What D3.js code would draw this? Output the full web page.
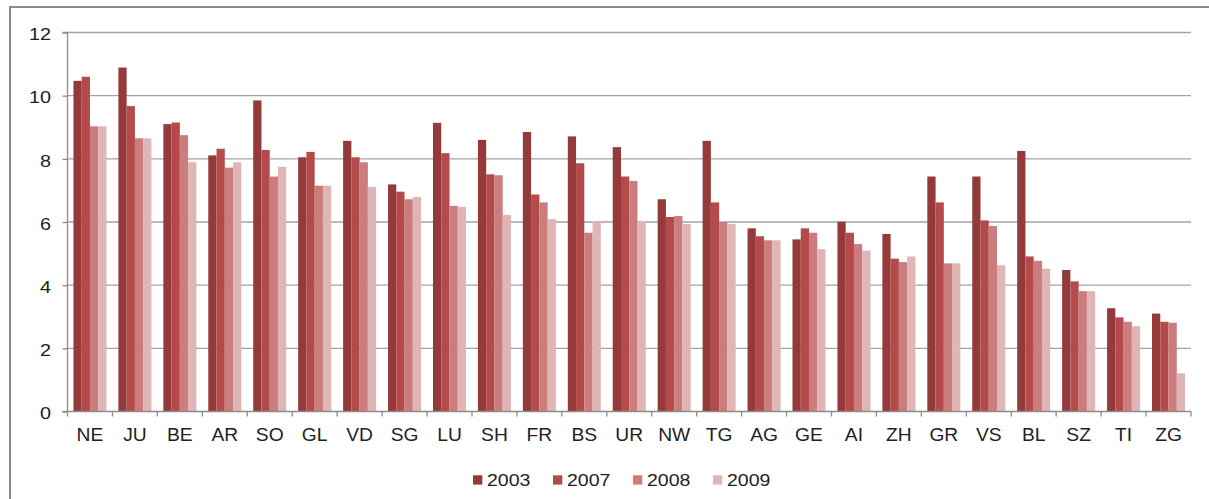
<!DOCTYPE html>
<html>
<head>
<meta charset="utf-8">
<script src="https://cdn.jsdelivr.net/npm/d3@7"></script>
<style>
  html, body { margin: 0; padding: 0; background: #fff; }
  svg { display: block; }
  text { font-family: "Liberation Sans", Arial, sans-serif; fill: #222; }
</style>
</head>
<body>
<svg id="chart" width="1209" height="499"></svg>
<script>
const categories = ["NE","JU","BE","AR","SO","GL","VD","SG","LU","SH","FR","BS","UR","NW","TG","AG","GE","AI","ZH","GR","VS","BL","SZ","TI","ZG"];
const seriesNames = ["2003","2007","2008","2009"];
const v2003 = [10.47,10.89,9.10,8.11,9.85,8.05,8.57,7.19,9.14,8.60,8.85,8.71,8.37,6.72,8.57,5.80,5.45,6.01,5.62,7.44,7.44,8.25,4.48,3.27,3.10];
const v2007 = [10.60,9.67,9.15,8.32,8.28,8.22,8.05,6.96,8.18,7.51,6.87,7.86,7.44,6.16,6.62,5.55,5.80,5.66,4.84,6.62,6.05,4.91,4.12,2.98,2.84];
const v2008 = [9.03,8.65,8.75,7.72,7.44,7.15,7.89,6.72,6.51,7.48,6.62,5.66,7.30,6.19,6.00,5.42,5.66,5.30,4.73,4.69,5.87,4.77,3.81,2.84,2.81];
const v2009 = [9.03,8.65,7.89,7.89,7.75,7.15,7.11,6.79,6.48,6.22,6.09,6.02,6.02,5.94,5.94,5.42,5.14,5.09,4.91,4.69,4.63,4.52,3.81,2.70,1.21];
const yTicks = [0,2,4,6,8,10,12];
const colors = ["#953a3a","#b44b4a","#cb7d7d","#e0b5b5"];

const seriesValues = [v2003, v2007, v2008, v2009];
const svg = d3.select("#chart");
const FONT = '"Liberation Sans", Arial, sans-serif';

// outer frame
svg.append("rect").attr("x", 10).attr("y", 7).attr("width", 1209).attr("height", 520)
  .attr("fill", "none").attr("stroke", "#8c8c8c").attr("stroke-width", 2);

const mLeft = 67.5, mRight = 1191, mTop = 32.5, mBottom = 411.5;

const x = d3.scaleBand().domain(categories).range([mLeft, mRight]).paddingInner(0).paddingOuter(0);
const inner = d3.scaleBand().domain(seriesNames).range([0, x.bandwidth()]).paddingInner(0).paddingOuter(0.72);
const y = d3.scaleLinear().domain([0, 12]).range([mBottom, mTop]);

// gridlines
svg.append("g").selectAll("line").data(yTicks.filter(d => d > 0)).join("line")
  .attr("x1", mLeft).attr("x2", mRight)
  .attr("y1", d => y(d)).attr("y2", d => y(d))
  .attr("stroke", "#a3a3a3").attr("stroke-width", 1.3);

// bars
const groups = svg.append("g").selectAll("g").data(categories).join("g")
  .attr("transform", c => `translate(${x(c)},0)`);
groups.selectAll("rect").data((c, i) => seriesNames.map((s, k) => ({ s, k, v: seriesValues[k][i] })))
  .join("rect")
  .attr("x", d => inner(d.s))
  .attr("width", inner.bandwidth())
  .attr("y", d => y(d.v))
  .attr("height", d => y(0) - y(d.v))
  .attr("fill", d => colors[d.k]);

// y axis
const yAxis = d3.axisLeft(y).tickValues(yTicks).tickSize(5).tickPadding(11.5).tickFormat(d3.format("d"));
const gy = svg.append("g").attr("transform", `translate(${mLeft},0)`).call(yAxis);
gy.select(".domain").attr("stroke", "#8c8c8c").attr("stroke-width", 1.3).attr("d", `M-5,${mTop}H0V${mBottom}`);
gy.selectAll(".tick line").attr("stroke", "#8c8c8c").attr("stroke-width", 1.3);
gy.selectAll(".tick text")
  .attr("x", 0).attr("dy", 0).attr("y", 7.3)
  .attr("transform", "translate(-16.5,0) scale(1.2,1)")
  .attr("font-size", 16.5).attr("fill", "#222").style("font-family", FONT);

// x axis
const xAxis = d3.axisBottom(x).tickSize(0).tickPadding(14);
const gx = svg.append("g").attr("transform", `translate(0,${mBottom})`).call(xAxis);
gx.select(".domain").attr("stroke", "#8c8c8c").attr("stroke-width", 1.3).attr("d", `M${mLeft-5},0H${mRight}`);
gx.selectAll(".tick text")
  .attr("y", 29.5).attr("dy", 0)
  .attr("transform", "scale(1.1,1)")
  .attr("font-size", 17.5).attr("fill", "#222").style("font-family", FONT);
// boundary ticks
const bounds = categories.map(c => x(c)).concat([mRight]);
svg.append("g").selectAll("line").data(bounds).join("line")
  .attr("x1", d => d).attr("x2", d => d)
  .attr("y1", mBottom).attr("y2", mBottom + 5)
  .attr("stroke", "#8c8c8c").attr("stroke-width", 1.3);

// legend
const legend = svg.append("g").selectAll("g").data(seriesNames).join("g")
  .attr("transform", (d, i) => `translate(${473 + i * 80},475.3)`);
legend.append("rect").attr("width", 9.3).attr("height", 9.3).attr("fill", (d, i) => colors[i]);
legend.append("text").attr("transform", "translate(14,10.2) scale(1.22,1)")
  .attr("font-size", 16).style("font-family", FONT).text(d => d);
</script>
</body>
</html>
